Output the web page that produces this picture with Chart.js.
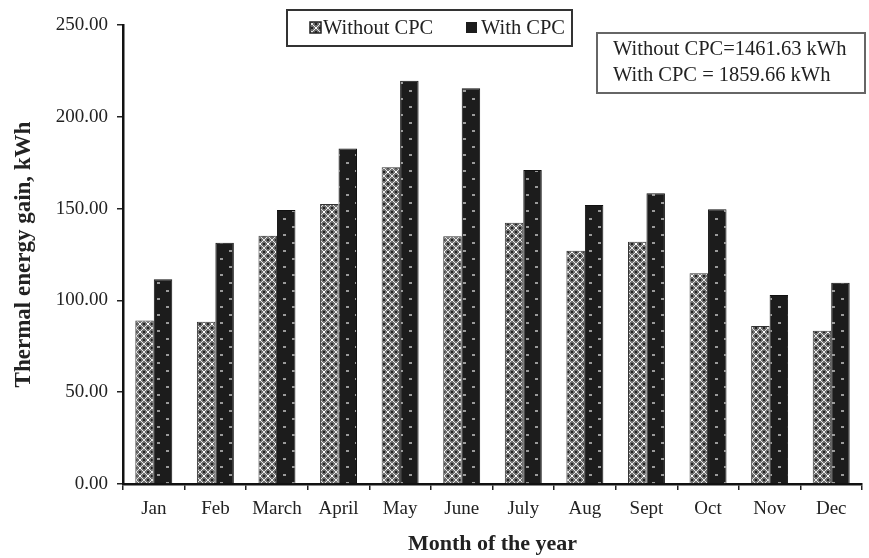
<!DOCTYPE html>
<html>
<head>
<meta charset="utf-8">
<script src="https://cdn.jsdelivr.net/npm/chart.js@4.4.1/dist/chart.umd.min.js"></script>
<style>
    html, body { margin: 0; padding: 0; background: #fff; }
    #wrap { width: 869px; height: 558px; position: relative; }
</style>
</head>
<body>
<div id="wrap"><canvas id="chart" width="869" height="558"></canvas></div>
<script>
// ============================================
// DATA
// ============================================

const months = ['Jan', 'Feb', 'March', 'April', 'May', 'June', 'July', 'Aug', 'Sept', 'Oct', 'Nov', 'Dec'];
const withoutCPC = [89.0, 88.4, 135.2, 152.5, 172.5, 135.0, 142.3, 127.0, 132.0, 114.8, 86.0, 83.5];
const withCPC = [111.5, 131.4, 149.2, 182.8, 219.7, 215.5, 171.0, 152.0, 158.3, 149.6, 103.0, 109.6];
const yTicks = [0, 50, 100, 150, 200, 250];
const seriesNames = ['Without CPC', 'With CPC'];
const totalsText = ['Without CPC=1461.63 kWh', 'With CPC = 1859.66 kWh'];

const SERIF = '"Liberation Serif", "DejaVu Serif", serif';

// ============================================
// PATTERNS
// ============================================

function makeHatch() {
    const c = document.createElement('canvas');
    c.width = 8; c.height = 8;
    const g = c.getContext('2d');
    g.fillStyle = '#6e6e6e';
    g.fillRect(0, 0, 8, 8);
    g.strokeStyle = '#e6e6e6';
    g.lineWidth = 1;
    g.beginPath();
    g.moveTo(0, 0); g.lineTo(8, 8);
    g.moveTo(8, 0); g.lineTo(0, 8);
    g.stroke();
    g.fillStyle = '#222';
    g.fillRect(3, 0, 2, 1);
    g.fillRect(0, 3, 1, 2);
    g.fillRect(7, 3, 1, 2);
    g.fillRect(3, 7, 2, 1);
    g.fillStyle = '#fff';
    g.fillRect(3, 3, 2, 2);
    return g.createPattern(c, 'repeat');
}

function makeDots() {
    const c = document.createElement('canvas');
    c.width = 18; c.height = 16;
    const g = c.getContext('2d');
    g.fillStyle = '#1c1c1c';
    g.fillRect(0, 0, 18, 16);
    g.fillStyle = '#9a9a9a';
    g.fillRect(4, 2, 3, 2);
    g.fillRect(13, 10, 3, 2);
    return g.createPattern(c, 'repeat');
}

const hatch = makeHatch();
const dots = makeDots();

// ============================================
// OVERLAYS: legend box + totals box
// ============================================

const overlayPlugin = {
    id: 'overlays',
    afterDraw(chart) {
        const ctx = chart.ctx;
        ctx.save();

        // legend box
        ctx.fillStyle = '#fff';
        ctx.fillRect(287, 10, 285, 36);
        ctx.strokeStyle = '#333';
        ctx.lineWidth = 2;
        ctx.strokeRect(287, 10, 285, 36);

        ctx.font = '20.5px ' + SERIF;
        ctx.textBaseline = 'middle';

        ctx.fillStyle = hatch;
        ctx.fillRect(310, 22, 11, 11);
        ctx.strokeStyle = '#222';
        ctx.lineWidth = 1.5;
        ctx.strokeRect(310, 22, 11, 11);
        ctx.fillStyle = '#222';
        ctx.fillText(seriesNames[0], 323, 29);

        ctx.fillStyle = dots;
        ctx.fillRect(466, 22, 11, 11);
        ctx.fillStyle = '#222';
        ctx.fillText(seriesNames[1], 481, 29);

        // totals box
        ctx.fillStyle = '#fff';
        ctx.fillRect(597, 33, 268, 60);
        ctx.strokeStyle = '#666';
        ctx.lineWidth = 2;
        ctx.strokeRect(597, 33, 268, 60);
        ctx.fillStyle = '#222';
        ctx.fillText(totalsText[0], 613, 50);
        ctx.fillText(totalsText[1], 613, 76);

        ctx.restore();
    }
};

// ============================================
// CHART
// ============================================

new Chart(document.getElementById('chart'), {
    type: 'bar',
    data: {
        labels: months,
        datasets: [
            {
                label: seriesNames[0],
                data: withoutCPC,
                backgroundColor: hatch,
                borderColor: '#333',
                borderWidth: 1,
                barPercentage: 1.0,
                categoryPercentage: 0.6
            },
            {
                label: seriesNames[1],
                data: withCPC,
                backgroundColor: dots,
                borderColor: '#111',
                borderWidth: 1,
                barPercentage: 1.0,
                categoryPercentage: 0.6
            }
        ]
    },
    options: {
        responsive: false,
        animation: false,
        layout: { padding: { left: 0, top: 25, right: 7, bottom: 0 } },
        plugins: {
            legend: { display: false },
            tooltip: { enabled: false }
        },
        scales: {
            x: {
                grid: {
                    display: true,
                    offset: true,
                    drawOnChartArea: false,
                    drawTicks: true,
                    tickLength: 6,
                    color: '#222',
                    lineWidth: 1.5
                },
                border: { color: '#111', width: 2.5 },
                ticks: {
                    color: '#222',
                    font: { family: SERIF, size: 19 },
                    padding: 8,
                    maxRotation: 0,
                    autoSkip: false
                },
                title: {
                    display: true,
                    text: 'Month of the year',
                    color: '#222',
                    font: { family: SERIF, size: 22, weight: 'bold' },
                    padding: { top: 2, bottom: 0 }
                },
                afterFit(scale) { scale.height = 74; }
            },
            y: {
                min: 0,
                max: 250,
                afterBuildTicks(scale) {
                    scale.ticks = yTicks.map(v => ({ value: v }));
                },
                grid: {
                    display: true,
                    drawOnChartArea: false,
                    drawTicks: true,
                    tickLength: 6,
                    color: '#222',
                    lineWidth: 1.5
                },
                border: { color: '#111', width: 2.5 },
                ticks: {
                    color: '#222',
                    font: { family: SERIF, size: 19 },
                    padding: 9,
                    callback: v => Number(v).toFixed(2)
                },
                title: {
                    display: true,
                    text: 'Thermal energy gain, kWh',
                    color: '#222',
                    font: { family: SERIF, size: 23, weight: 'bold' },
                    padding: { top: 10, bottom: 3 }
                },
                afterFit(scale) { scale.width = 123; }
            }
        }
    },
    plugins: [overlayPlugin]
});
</script>
</body>
</html>
